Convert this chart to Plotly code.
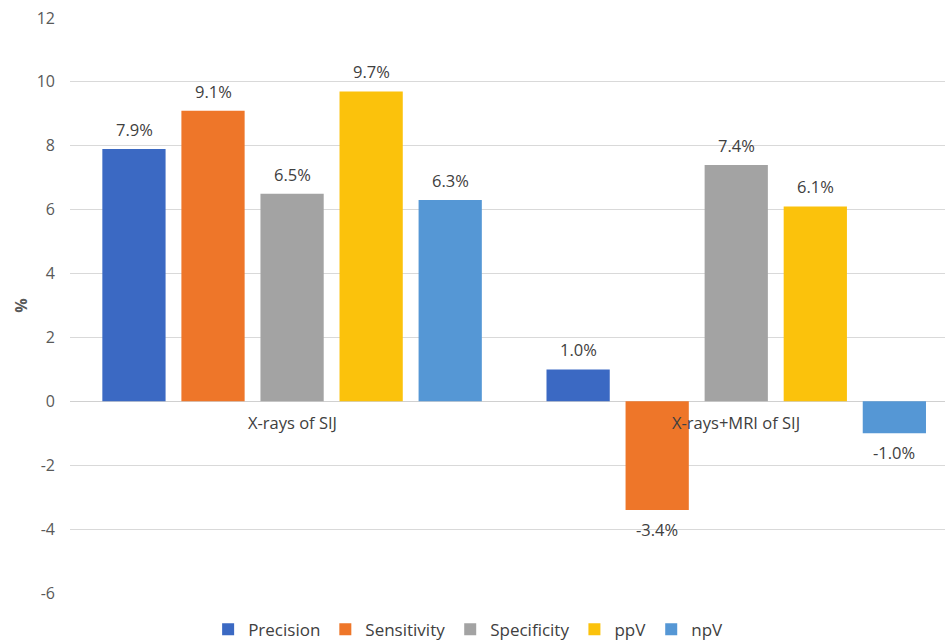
import plotly.graph_objects as go

categories = ["X-rays of SIJ", "X-rays+MRI of SIJ"]
series_names = ["Precision", "Sensitivity", "Specificity", "ppV", "npV"]
precision = [7.9, 1.0]
sensitivity = [9.1, -3.4]
specificity = [6.5, 7.4]
ppv = [9.7, 6.1]
npv = [6.3, -1.0]
y_ticks = [-6, -4, -2, 0, 2, 4, 6, 8, 10, 12]

values = [precision, sensitivity, specificity, ppv, npv]
colors = ["#3b69c3", "#ee7629", "#a3a3a3", "#fbc20c", "#5597d5"]

FONT = "Open Sans"
TXT = "#595959"
LBL = "#404040"
SLOT_PX = 79

fig = go.Figure()
for name, vals, col in zip(series_names, values, colors):
    fig.add_trace(go.Bar(
        name=name, x=list(range(len(categories))), y=vals,
        marker=dict(color=col, line=dict(width=0)),
    ))

# value labels
for j, vals in enumerate(values):
    for i, v in enumerate(vals):
        fig.add_annotation(x=i, y=v, xref="x", yref="y", text=f"{v:.1f}%",
                           showarrow=False, xshift=(j - 2) * SLOT_PX,
                           yanchor="bottom" if v >= 0 else "top",
                           yshift=6 if v >= 0 else -6,
                           font=dict(family=FONT, size=16.5, color=LBL))

for i, c in enumerate(categories):
    fig.add_annotation(x=i, y=0, xref="x", yref="y", text=c, showarrow=False,
                       yanchor="top", yshift=-8,
                       font=dict(family=FONT, size=16.5, color=LBL))

fig.update_layout(
    width=945, height=640,
    margin=dict(l=70, r=0, t=18, b=47, autoexpand=False),
    paper_bgcolor="white", plot_bgcolor="white",
    barmode="group", bargap=0.11, bargroupgap=0.2,
    font=dict(family=FONT, size=16, color=TXT),
    showlegend=True,
    legend=dict(orientation="h", x=0.455, xanchor="center", y=-0.064, yanchor="middle",
                font=dict(family=FONT, size=17, color=LBL), traceorder="normal",
                itemwidth=30),
    xaxis=dict(range=[-0.5, 1.47], showticklabels=False, showgrid=False,
               zeroline=False, showline=False, ticks=""),
    yaxis=dict(range=[-6, 12], tickvals=y_ticks, ticktext=[str(t) for t in y_ticks],
               showgrid=True, gridcolor="#d9d9d9",
               gridwidth=1, zeroline=True, zerolinecolor="#d0d0d0", zerolinewidth=1,
               showline=False, ticks="", ticklabelstandoff=14,
               tickfont=dict(family=FONT, size=16, color=TXT),
               title=dict(text="<b>%</b>", font=dict(family=FONT, size=16, color=TXT), standoff=5)),
)

fig.write_html("out.html")
